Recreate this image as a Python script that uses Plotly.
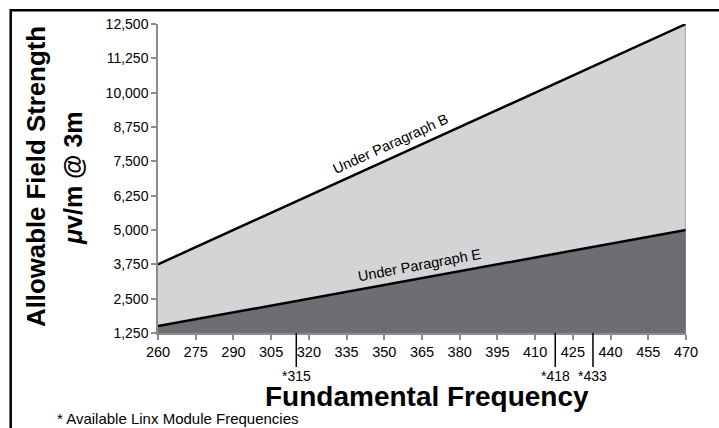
import plotly.graph_objects as go

# ---- data ----
freq = [260, 275, 290, 305, 320, 335, 350, 365, 380, 395, 410, 425, 440, 455, 470]
para_b = [3750, 4375, 5000, 5625, 6250, 6875, 7500, 8125, 8750, 9375, 10000, 10625, 11250, 11875, 12500]
para_e = [1500, 1750, 2000, 2250, 2500, 2750, 3000, 3250, 3500, 3750, 4000, 4250, 4500, 4750, 5000]
x_ticks = [260, 275, 290, 305, 320, 335, 350, 365, 380, 395, 410, 425, 440, 455, 470]
y_ticks = [1250, 2500, 3750, 5000, 6250, 7500, 8750, 10000, 11250, 12500]
linx_freqs = [315, 418, 433]
linx_labels = ["*315", "*418", "*433"]

# ---- layout helpers ----
W, H = 719, 428
L, R, T, B = 158, 33, 24, 95
PW, PH = W - L - R, H - T - B
def px(x):
    return (x - L) / PW
def py(y):
    return 1 - (y - T) / PH

FONT = "Liberation Sans, Arial, Helvetica, sans-serif"
GRAY = "#8c8c8c"

fig = go.Figure()
fig.add_trace(go.Scatter(x=freq, y=para_e, mode="lines",
                         line=dict(color="black", width=2.5),
                         fill="tozeroy", fillcolor="#6d6e71",
                         hoverinfo="skip", showlegend=False))
fig.add_trace(go.Scatter(x=freq, y=para_b, mode="lines",
                         line=dict(color="black", width=2.5),
                         fill="tonexty", fillcolor="#d3d4d6",
                         hoverinfo="skip", showlegend=False))
# right edge of filled area
fig.add_trace(go.Scatter(x=[freq[-1], freq[-1]], y=[y_ticks[0], para_b[-1]], mode="lines",
                         line=dict(color=GRAY, width=1.2), hoverinfo="skip", showlegend=False))

shapes = []
annotations = []
for f, lab in zip(linx_freqs, linx_labels):
    shapes.append(dict(type="line", xref="x", yref="paper", x0=f, x1=f,
                       y0=py(333), y1=py(367), line=dict(color="black", width=1.5)))
    annotations.append(dict(x=f, xref="x", y=py(376), yref="paper", text=lab,
                            showarrow=False, xanchor="center", yanchor="middle",
                            font=dict(family=FONT, size=14, color="black")))

# border
shapes.append(dict(type="rect", xref="paper", yref="paper",
                   x0=px(10.7), x1=px(735), y0=py(445), y1=py(10.3),
                   line=dict(color="black", width=2.5), fillcolor="rgba(0,0,0,0)"))

annotations += [
    dict(x=px(36), y=py(177), xref="paper", yref="paper", text="<b>Allowable Field Strength</b>",
         textangle=-90, showarrow=False, xanchor="center", yanchor="middle",
         font=dict(family=FONT, size=25.8, color="black")),
    dict(x=px(73), y=py(178), xref="paper", yref="paper", text="<b><i>μ</i>v/m @ 3m</b>",
         textangle=-90, showarrow=False, xanchor="center", yanchor="middle",
         font=dict(family=FONT, size=25, color="black")),
    dict(x=px(427), y=py(396), xref="paper", yref="paper", text="<b>Fundamental Frequency</b>",
         showarrow=False, xanchor="center", yanchor="middle",
         font=dict(family=FONT, size=28, color="black")),
    dict(x=px(55), y=py(418), xref="paper", yref="paper", text="* Available Linx Module Frequencies",
         showarrow=False, xanchor="left", yanchor="middle",
         font=dict(family=FONT, size=15, color="black")),
    dict(x=352.3, y=8131, xref="x", yref="y", text="Under Paragraph B", textangle=-24.5,
         showarrow=False, xanchor="center", yanchor="middle",
         font=dict(family=FONT, size=14.5, color="black")),
    dict(x=364.2, y=3726, xref="x", yref="y", text="Under Paragraph E", textangle=-10.5,
         showarrow=False, xanchor="center", yanchor="middle",
         font=dict(family=FONT, size=14.5, color="black")),
]

fig.update_layout(
    width=W, height=H,
    margin=dict(l=L, r=R, t=T, b=B, pad=0),
    paper_bgcolor="white", plot_bgcolor="white",
    shapes=shapes, annotations=annotations,
    xaxis=dict(range=[x_ticks[0], x_ticks[-1]], tickvals=x_ticks, showgrid=False, zeroline=False,
               showline=True, linecolor=GRAY, linewidth=1.5, ticks="outside", ticklen=5,
               tickwidth=1.5, tickcolor=GRAY, tickfont=dict(family=FONT, size=14.5, color="black")),
    yaxis=dict(range=[y_ticks[0], y_ticks[-1]], tickvals=y_ticks, tickformat=",", showgrid=False,
               zeroline=False, showline=True, linecolor=GRAY, linewidth=1.5, ticks="outside",
               ticklen=5, tickwidth=1.5, tickcolor=GRAY,
               tickfont=dict(family=FONT, size=14, color="black")),
)

fig.write_html("out.html", config={"displayModeBar": False})

# remove default page margin so the figure sits at the window's top-left corner
with open("out.html", encoding="utf-8") as fh:
    html = fh.read()
html = html.replace("<body>", '<body style="margin:0;padding:0;overflow:hidden">', 1)
with open("out.html", "w", encoding="utf-8") as fh:
    fh.write(html)
